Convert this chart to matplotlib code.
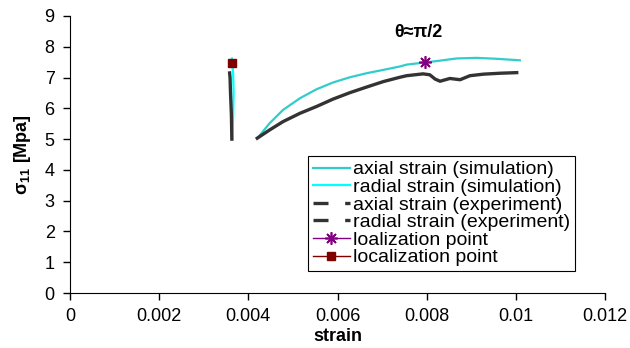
import matplotlib
matplotlib.use('Agg')
import matplotlib.pyplot as plt

plt.rcParams['font.family'] = ['Liberation Sans', 'DejaVu Sans']
plt.rcParams['mathtext.fontset'] = 'custom'
plt.rcParams['mathtext.rm'] = 'Liberation Sans'
plt.rcParams['mathtext.bf'] = 'Liberation Sans:bold'

# simulation, axial strain
sim_ax_x = [0.00422, 0.00448, 0.00478, 0.00516, 0.00553, 0.00590, 0.00628, 0.00665,
            0.00703, 0.00740, 0.00755, 0.00796, 0.00830, 0.00867, 0.00912, 0.00957, 0.01009]
sim_ax_y = [5.06, 5.52, 5.95, 6.33, 6.62, 6.84, 7.01, 7.14,
            7.25, 7.36, 7.42, 7.49, 7.55, 7.62, 7.64, 7.61, 7.56]
# simulation, radial strain
sim_rad_x = [0.00364, 0.00366, 0.00367, 0.00366, 0.00363]
sim_rad_y = [5.0, 5.8, 6.5, 7.1, 7.62]
# experiment, axial strain
exp_ax_x = [0.00420, 0.00448, 0.00478, 0.00516, 0.00553, 0.00590, 0.00628, 0.00665,
            0.00703, 0.00740, 0.00755, 0.00792, 0.00807, 0.00819, 0.00830, 0.00852,
            0.00875, 0.00897, 0.00927, 0.00964, 0.01002]
exp_ax_y = [5.03, 5.30, 5.57, 5.84, 6.06, 6.30, 6.51, 6.69,
            6.87, 7.01, 7.06, 7.12, 7.09, 6.95, 6.88, 6.97,
            6.93, 7.06, 7.11, 7.14, 7.16]
# experiment, radial strain
exp_rad_x = [0.00363, 0.00362, 0.00360, 0.00359, 0.00358]
exp_rad_y = [5.0, 5.8, 6.5, 7.0, 7.15]
# localization points
loc_sim = (0.00796, 7.49)
loc_exp = (0.003636, 7.47)

fig = plt.figure(figsize=(6.3, 3.48), dpi=100)
ax = fig.add_axes([70/630, 1-293/348, 535/630, 277/348])

ax.plot(sim_ax_x, sim_ax_y, color='#33CCCC', lw=1.6, label='axial strain (simulation)')
ax.plot(sim_rad_x, sim_rad_y, color='#00FFFF', lw=1.6, label='radial strain (simulation)')
ax.plot(exp_ax_x, exp_ax_y, color='#333333', lw=2.4, label='axial strain (experiment)')
ax.plot(exp_rad_x, exp_rad_y, color='#333333', lw=2.4, label='radial strain (experiment)')
ax.plot([loc_sim[0]], [loc_sim[1]], color='#800080', lw=1, marker=(8, 2, 0),
        ms=9, mew=1.2, label='loalization point')
ax.plot([loc_exp[0]], [loc_exp[1]], color='#800000', lw=1, marker='s',
        ms=6, label='localization point')

ax.set_xlim(0, 0.012)
ax.set_ylim(0, 9)
ax.set_xticks([0, 0.002, 0.004, 0.006, 0.008, 0.01, 0.012])
ax.set_xticklabels(['0', '0.002', '0.004', '0.006', '0.008', '0.01', '0.012'])
ax.set_yticks(range(10))
ax.tick_params(labelsize=13, length=5, width=1, pad=6)
for s in ['top', 'right']:
    ax.spines[s].set_visible(False)
ax.set_xlabel('strain', fontsize=13, fontweight='bold', labelpad=2)
ax.set_ylabel(r'σ$_{\mathbf{11}}$ [Mpa]', fontsize=13, fontweight='bold', labelpad=8)
ax.text(0.00782, 8.48, 'θ≈π/2', fontsize=13, fontweight='bold', ha='center', va='center')

leg = ax.legend(loc='upper left', bbox_to_anchor=(0.445, 0.495), borderaxespad=0,
                fontsize=14, handlelength=1.9, handletextpad=0.15, labelspacing=0.0,
                borderpad=0.25, fancybox=False, edgecolor='black', framealpha=1)
leg.get_frame().set_linewidth(0.8)
for h in leg.legend_handles[2:4]:
    h.set_linestyle((0, (4.5, 5, 2.5, 5)))

fig.savefig('out.png', dpi=100)
